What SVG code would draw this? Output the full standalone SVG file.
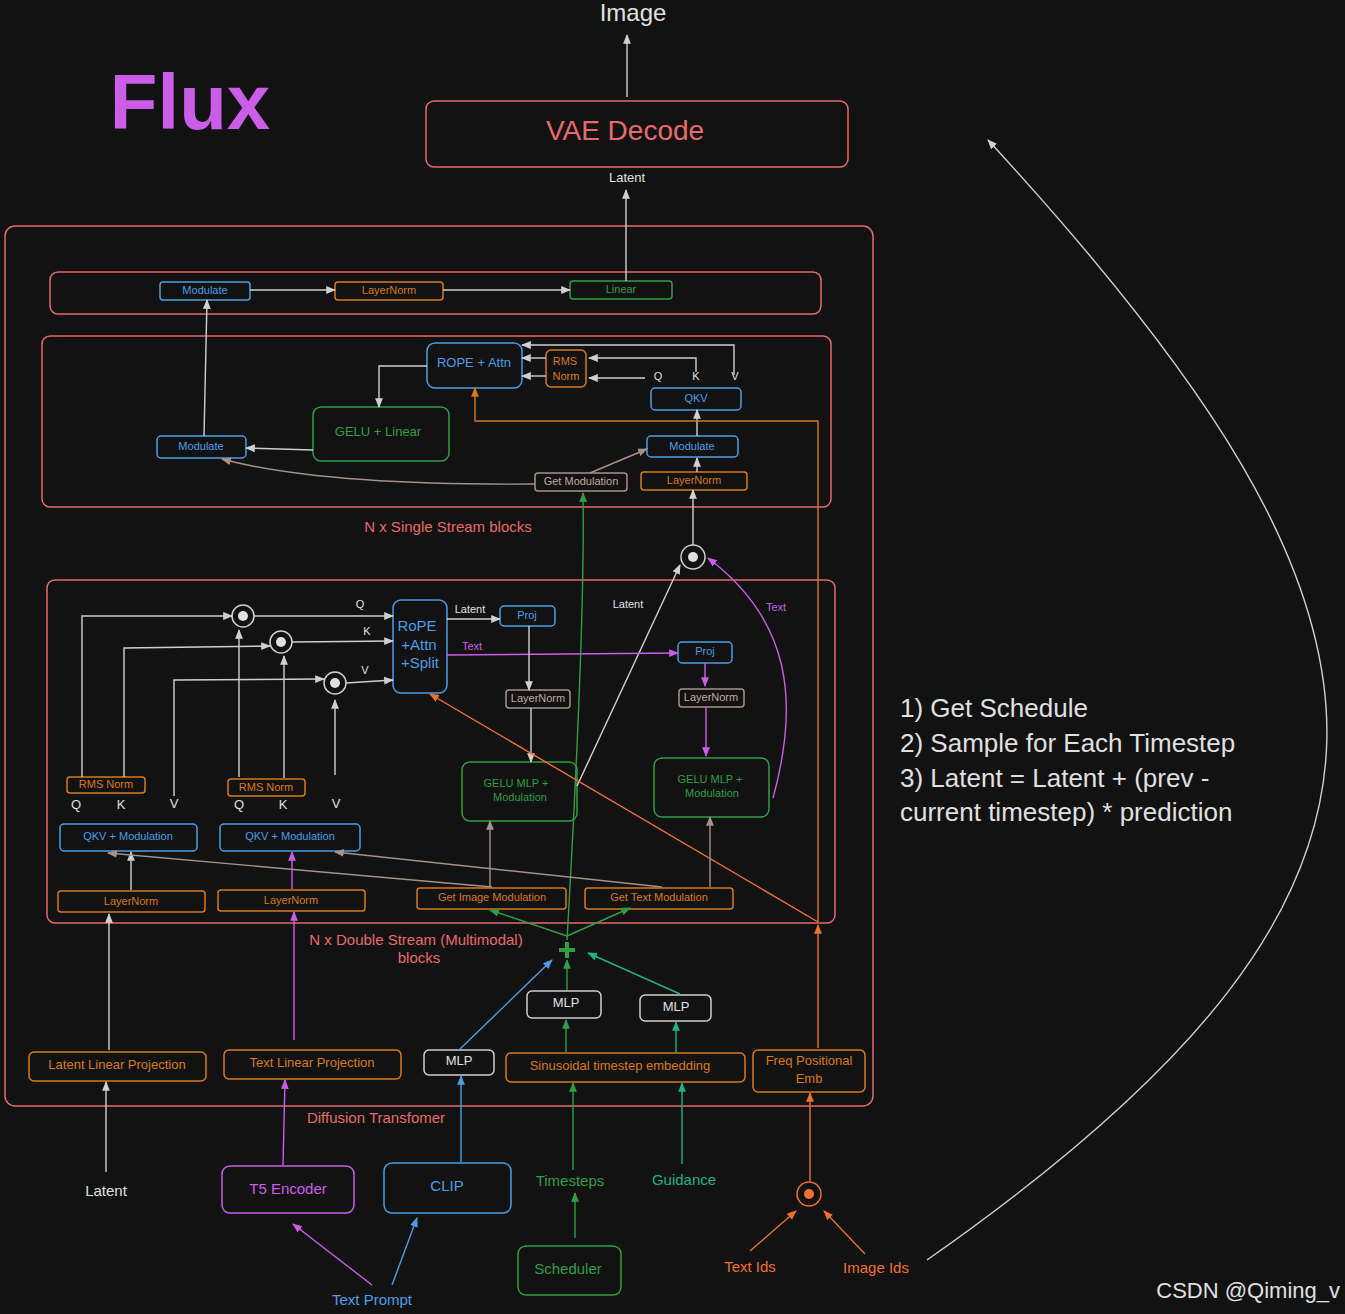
<svg xmlns="http://www.w3.org/2000/svg" width="1345" height="1314" viewBox="0 0 1345 1314">
<defs>
<marker id="a" viewBox="0 0 10 10" refX="9" refY="5" markerWidth="7" markerHeight="7" orient="auto-start-reverse"><path d="M0,1 L10,5 L0,9 z" fill="context-stroke"/></marker>
<style>
text{font-family:"Liberation Sans",Arial,sans-serif;text-anchor:middle;dominant-baseline:middle}
.b{fill:none;stroke-width:1.5}
.r{stroke:#e86a6a}.bl{stroke:#4a9ee8}.o{stroke:#d97a1a}.g{stroke:#2f9e44}.w{stroke:#d0d0d0}.p{stroke:#cc5de8}.br{stroke:#a8918a}.t{stroke:#20b08a}.oo{stroke:#f07030}
.tr{fill:#e86a6a}.tb{fill:#4a9ee8}.to{fill:#d97a1a}.tg{fill:#2f9e44}.tw{fill:#e0e0e0}.tp{fill:#cc5de8}.tbr{fill:#c0aaa2}.tt{fill:#20b08a}.too{fill:#f07030}
.c{fill:none;stroke-width:1.4;marker-end:url(#a)}
.s{font-size:11px}.m{font-size:13px}.l{font-size:15px}
</style>
</defs>
<rect width="1345" height="1314" fill="#121212"/>
<text x="190" y="108" font-size="78" class="tp" font-weight="bold" fill="#b44fd6">Flux</text>
<text x="633" y="15" font-size="24" class="tw">Image</text>

<g id="containers">
<rect class="b r" x="5" y="226" width="868" height="880" rx="10"/>
<rect class="b r" x="50" y="272" width="771" height="42" rx="8"/>
<rect class="b r" x="42" y="336" width="789" height="171" rx="8"/>
<rect class="b r" x="47" y="580" width="788" height="343" rx="8"/>
<text x="448" y="528" class="tr l">N x Single Stream blocks</text>
<text x="416" y="941" class="tr l">N x Double Stream (Multimodal)</text>
<text x="419" y="959" class="tr l">blocks</text>
<text x="376" y="1119" class="tr l">Diffusion Transfomer</text>
</g>

<g id="n-vae"><rect class="b r" x="426" y="101" width="422" height="66" rx="8"/><text x="625" y="133" font-size="28" class="tr">VAE Decode</text></g>
<g id="n-fmod"><rect class="b bl" x="160" y="282" width="90" height="18" rx="3"/><text x="205" y="291" class="tb s">Modulate</text></g>
<g id="n-fln"><rect class="b o" x="335" y="282" width="108" height="18" rx="3"/><text x="389" y="291" class="to s">LayerNorm</text></g>
<g id="n-flin"><rect class="b g" x="570" y="281" width="102" height="18" rx="3"/><text x="621" y="290" class="tg s">Linear</text></g>

<g id="n-rope1"><rect class="b bl" x="427" y="343" width="95" height="45" rx="8"/><text x="474" y="364" class="tb m">ROPE + Attn</text></g>
<g id="n-rms1"><rect class="b o" x="546" y="350" width="40" height="37" rx="5"/><text x="565" y="362" class="to s">RMS</text><text x="566" y="377" class="to s">Norm</text></g>
<g id="n-qkv1"><rect class="b bl" x="651" y="388" width="90" height="22" rx="4"/><text x="696" y="399" class="tb s">QKV</text></g>
<text x="658" y="377" class="tw s">Q</text><text x="696" y="377" class="tw s">K</text><text x="735" y="377" class="tw s">V</text>
<g id="n-gelu1"><rect class="b g" x="313" y="407" width="136" height="54" rx="8"/><text x="378" y="433" class="tg m">GELU + Linear</text></g>
<g id="n-modl"><rect class="b bl" x="157" y="436" width="89" height="22" rx="4"/><text x="201" y="447" class="tb s">Modulate</text></g>
<g id="n-modr"><rect class="b bl" x="647" y="436" width="91" height="21" rx="4"/><text x="692" y="447" class="tb s">Modulate</text></g>
<g id="n-getmod"><rect class="b br" x="535" y="473" width="92" height="18" rx="3"/><text x="581" y="482" class="tbr s">Get Modulation</text></g>
<g id="n-ln1"><rect class="b o" x="641" y="472" width="106" height="18" rx="3"/><text x="694" y="481" class="to s">LayerNorm</text></g>

<g id="n-circ-top"><circle cx="693" cy="557" r="12" class="b w"/><circle cx="693" cy="557" r="5" fill="#e0e0e0"/></g>

<g id="n-c1"><circle cx="243" cy="616" r="11" class="b w"/><circle cx="243" cy="616" r="5" fill="#e0e0e0"/></g>
<g id="n-c2"><circle cx="281" cy="642" r="11" class="b w"/><circle cx="281" cy="642" r="5" fill="#e0e0e0"/></g>
<g id="n-c3"><circle cx="335" cy="683" r="11" class="b w"/><circle cx="335" cy="683" r="5" fill="#e0e0e0"/></g>
<g id="n-rope2"><rect class="b bl" x="393" y="600" width="54" height="93" rx="8"/><text x="417" y="627" class="tb l">RoPE</text><text x="419" y="646" class="tb l">+Attn</text><text x="420" y="664" class="tb l">+Split</text></g>
<g id="n-proj1"><rect class="b bl" x="500" y="606" width="55" height="20" rx="4"/><text x="527" y="616" class="tb s">Proj</text></g>
<g id="n-proj2"><rect class="b bl" x="678" y="642" width="54" height="21" rx="4"/><text x="705" y="652" class="tb s">Proj</text></g>
<g id="n-ln2"><rect class="b br" x="506" y="690" width="64" height="18" rx="3"/><text x="538" y="699" class="tbr s">LayerNorm</text></g>
<g id="n-ln3"><rect class="b br" x="679" y="689" width="65" height="18" rx="3"/><text x="711" y="698" class="tbr s">LayerNorm</text></g>
<g id="n-gm1"><rect class="b g" x="462" y="762" width="115" height="59" rx="8"/><text x="516" y="784" class="tg s">GELU MLP +</text><text x="520" y="798" class="tg s">Modulation</text></g>
<g id="n-gm2"><rect class="b g" x="654" y="758" width="115" height="59" rx="8"/><text x="710" y="780" class="tg s">GELU MLP +</text><text x="712" y="794" class="tg s">Modulation</text></g>
<g id="n-rmsa"><rect class="b o" x="67" y="777" width="78" height="16" rx="3"/><text x="106" y="785" class="to s">RMS  Norm</text></g>
<g id="n-rmsb"><rect class="b o" x="228" y="779" width="77" height="17" rx="3"/><text x="266" y="788" class="to s">RMS  Norm</text></g>
<text x="76" y="806" class="tw m">Q</text><text x="121" y="806" class="tw m">K</text><text x="174" y="805" class="tw m">V</text>
<text x="239" y="806" class="tw m">Q</text><text x="283" y="806" class="tw m">K</text><text x="336" y="805" class="tw m">V</text>
<g id="n-qkvm1"><rect class="b bl" x="60" y="824" width="137" height="27" rx="4"/><text x="128" y="837" class="tb s">QKV + Modulation</text></g>
<g id="n-qkvm2"><rect class="b bl" x="220" y="824" width="140" height="27" rx="4"/><text x="290" y="837" class="tb s">QKV + Modulation</text></g>
<g id="n-lna"><rect class="b o" x="58" y="891" width="147" height="21" rx="3"/><text x="131" y="902" class="to s">LayerNorm</text></g>
<g id="n-lnb"><rect class="b o" x="218" y="890" width="147" height="21" rx="3"/><text x="291" y="901" class="to s">LayerNorm</text></g>
<g id="n-gim"><rect class="b o" x="417" y="888" width="149" height="21" rx="3"/><text x="492" y="898" class="to s">Get Image Modulation</text></g>
<g id="n-gtm"><rect class="b o" x="585" y="888" width="148" height="21" rx="3"/><text x="659" y="898" class="to s">Get Text Modulation</text></g>

<g id="n-plus"><path d="M567,942 V958 M559,950 H575" stroke="#2f9e44" stroke-width="4"/></g>
<g id="n-mlp1"><rect class="b w" x="527" y="991" width="74" height="27" rx="5"/><text x="566" y="1004" class="tw m">MLP</text></g>
<g id="n-mlp2"><rect class="b w" x="640" y="995" width="71" height="26" rx="5"/><text x="676" y="1008" class="tw m">MLP</text></g>
<g id="n-mlp3"><rect class="b w" x="424" y="1050" width="70" height="25" rx="5"/><text x="459" y="1062" class="tw m">MLP</text></g>
<g id="n-llp"><rect class="b o" x="29" y="1052" width="177" height="29" rx="5"/><text x="117" y="1066" class="to m">Latent Linear Projection</text></g>
<g id="n-tlp"><rect class="b o" x="224" y="1050" width="177" height="29" rx="5"/><text x="312" y="1064" class="to m">Text Linear Projection</text></g>
<g id="n-ste"><rect class="b o" x="506" y="1053" width="239" height="29" rx="5"/><text x="620" y="1067" class="to m">Sinusoidal timestep embedding</text></g>
<g id="n-fpe"><rect class="b o" x="753" y="1050" width="112" height="42" rx="5"/><text x="809" y="1062" class="to m">Freq Positional</text><text x="809" y="1080" class="to m">Emb</text></g>

<g id="n-latent"><text x="106" y="1192" class="tw l">Latent</text></g>
<g id="n-t5"><rect class="b p" x="222" y="1166" width="132" height="47" rx="8"/><text x="288" y="1190" class="tp l">T5 Encoder</text></g>
<g id="n-clip"><rect class="b bl" x="384" y="1163" width="127" height="50" rx="8"/><text x="447" y="1187" class="tb l">CLIP</text></g>
<g id="n-ts"><text x="570" y="1182" class="tg l">Timesteps</text></g>
<g id="n-gd"><text x="684" y="1181" class="tt l">Guidance</text></g>
<g id="n-sch"><rect class="b g" x="518" y="1246" width="103" height="49" rx="8"/><text x="568" y="1270" class="tg l">Scheduler</text></g>
<g id="n-oc"><circle cx="809" cy="1194" r="12" class="b oo"/><circle cx="809" cy="1194" r="5" fill="#f07030"/></g>
<g id="n-tids"><text x="750" y="1268" class="too l">Text Ids</text></g>
<g id="n-iids"><text x="876" y="1269" class="too l">Image Ids</text></g>
<g id="n-tp"><text x="372" y="1301" class="tb l">Text Prompt</text></g>

<g id="notes">
<text x="900" y="710" font-size="26" class="tw" style="text-anchor:start">1) Get Schedule</text>
<text x="900" y="745" font-size="26" class="tw" style="text-anchor:start">2) Sample for Each Timestep</text>
<text x="900" y="780" font-size="26" class="tw" style="text-anchor:start">3) Latent = Latent + (prev -</text>
<text x="900" y="814" font-size="26" class="tw" style="text-anchor:start">current timestep) * prediction</text>
<text x="1340" y="1292" font-size="22" class="tw" style="text-anchor:end">CSDN @Qiming_v</text>
</g>

<g id="connectors">
<path class="c w" d="M627,97 V35"/>
<path class="c w" d="M626,281 V190"/>
<text x="627" y="179" class="tw m">Latent</text>
<path class="c w" d="M250,290 H335"/>
<path class="c w" d="M443,290 H570"/>
<path class="c w" d="M204,436 L207,300"/>
<path class="c w" d="M734,375 V345 H522"/>
<path class="c w" d="M696,372 V358 H589"/>
<path class="c w" d="M645,378 H589"/>
<path class="c w" d="M546,358 H522"/>
<path class="c w" d="M546,376 H522"/>
<path class="c w" d="M427,366 H379 V407"/>
<path class="c w" d="M313,450 L246,448"/>
<path class="c w" d="M697,472 V458"/>
<path class="c w" d="M697,436 V410"/>
<path class="c w" d="M693,545 V490"/>
<path class="c br" d="M590,473 L647,449"/>
<path class="c br" d="M535,484 C420,485 300,480 222,459"/>
<path class="c o" d="M818,922 V421 H475 V388"/>
<path class="c g" d="M567,940 C575,800 585,600 583,493"/>
<path class="c w" d="M577,786 L680,565"/>
<path class="c p" d="M773,798 C800,700 790,620 708,558"/>
<text x="628" y="605" class="tw s">Latent</text>
<text x="776" y="608" class="tp s">Text</text>

<path class="c w" d="M82,777 V616 H232"/>
<path class="c w" d="M124,777 V648 L270,646"/>
<path class="c w" d="M174,796 V680 L324,679"/>
<path class="c w" d="M239,777 V630"/>
<path class="c w" d="M284,778 V656"/>
<path class="c w" d="M335,775 V700"/>
<path class="c w" d="M254,616 L393,616"/>
<path class="c w" d="M292,642 L393,641"/>
<path class="c w" d="M346,683 L393,680"/>
<text x="360" y="605" class="tw s">Q</text><text x="367" y="632" class="tw s">K</text><text x="365" y="671" class="tw s">V</text>
<path class="c w" d="M447,619 H500"/>
<text x="470" y="610" class="tw s">Latent</text>
<path class="c p" d="M447,655 L678,653"/>
<text x="472" y="647" class="tp s">Text</text>
<path class="c w" d="M529,626 V690"/>
<path class="c p" d="M705,663 V686"/>
<path class="c w" d="M531,708 V762"/>
<path class="c p" d="M706,707 V756"/>
<path class="c oo" d="M818,922 L430,694"/>
<path class="c w" d="M131,890 V852"/>
<path class="c p" d="M292,889 V852"/>
<path class="c br" d="M490,887 V821"/>
<path class="c br" d="M710,887 V817"/>
<path class="c br" d="M492,887 L108,853"/>
<path class="c br" d="M662,887 L335,852"/>
<path class="c g" d="M567,936 L490,910"/>
<path class="c g" d="M567,936 L630,908"/>

<path class="c w" d="M109,1050 V914"/>
<path class="c p" d="M294,1040 V912"/>
<path class="c g" d="M567,990 V960"/>
<path class="c t" d="M680,994 L588,953"/>
<path class="c bl" d="M459,1050 L552,960"/>
<path class="c oo" d="M818,1048 V925"/>
<path class="c w" d="M106,1172 V1082"/>
<path class="c p" d="M283,1165 L285,1080"/>
<path class="c bl" d="M461,1162 V1076"/>
<path class="c g" d="M573,1170 V1083"/>
<path class="c t" d="M682,1164 V1083"/>
<path class="c g" d="M575,1238 V1193"/>
<path class="c g" d="M566,1053 V1020"/>
<path class="c t" d="M676,1053 V1022"/>
<path class="c oo" d="M810,1181 V1093"/>
<path class="c oo" d="M750,1251 L796,1211"/>
<path class="c oo" d="M865,1254 L824,1211"/>
<path class="c p" d="M372,1285 L293,1224"/>
<path class="c bl" d="M392,1285 L417,1218"/>
<path class="c w" d="M927,1260 C1470,880 1430,620 988,140"/>
</g>
</svg>
